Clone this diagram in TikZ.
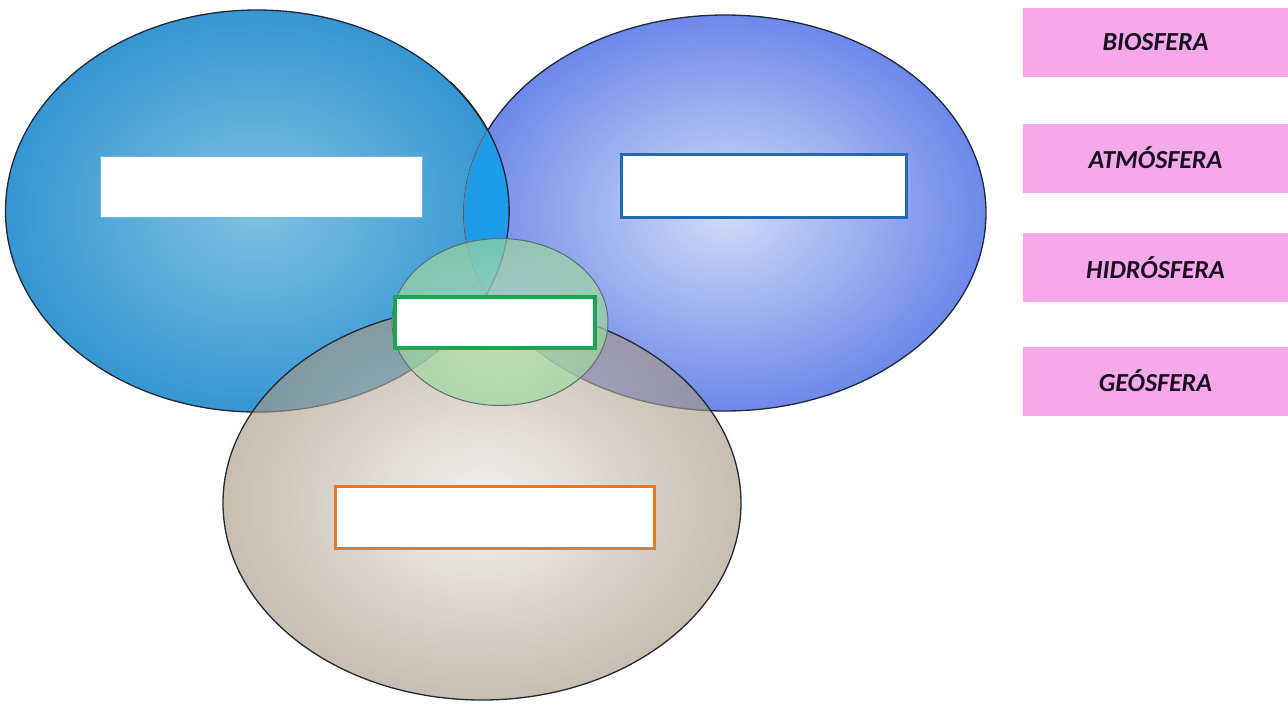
\documentclass[tikz,border=0pt]{standalone}
\usepackage{fontspec}
\setmainfont{Carlito}
\usetikzlibrary{shapes.geometric}
\definecolor{bioO}{HTML}{3596D2}
\definecolor{bioI}{HTML}{80C2E3}
\definecolor{atmO}{HTML}{5474E6}
\definecolor{atmI}{HTML}{CAD5F7}
\definecolor{mixBA}{HTML}{1E9CEA}
\definecolor{geoO}{HTML}{A8967F}
\definecolor{geoI}{HTML}{ECEAE8}
\definecolor{hidO}{HTML}{9CD89C}
\definecolor{hidI}{HTML}{C2EABE}
\definecolor{pinkbox}{HTML}{F6A9EA}
\definecolor{txtdark}{HTML}{1A1020}
\definecolor{blueline}{HTML}{1F6AB4}
\definecolor{greenline}{HTML}{1AA550}
\definecolor{orangeline}{HTML}{E5782A}
\definecolor{edgeline}{HTML}{1E2A3A}
\begin{document}
\begin{tikzpicture}[x=1pt,y=-1pt,
  sphere/.style={ellipse, inner sep=0pt, shade, draw=edgeline, line width=1.3pt},
  blank/.style={rectangle, inner sep=0pt, fill=white},
  label/.style={rectangle, inner sep=0pt, fill=pinkbox, minimum width=265pt, minimum height=69pt,
    text=txtdark, font=\bfseries\itshape\fontsize{26}{30}\selectfont}]
\useasboundingbox (0,0) rectangle (1288,705);
\fill[white] (0,0) rectangle (1288,705);
% spheres
\node[sphere, inner color=bioI, outer color=bioO, minimum width=503pt, minimum height=402pt] (bio) at (257,211) {};
\node[sphere, inner color=atmI, outer color=atmO, fill opacity=0.85, minimum width=522pt, minimum height=396pt] (atm) at (725,213) {};
\begin{scope}
  \clip (257,211) ellipse [x radius=251.5pt, y radius=201pt];
  \fill[mixBA] (725,213) ellipse [x radius=261pt, y radius=198pt];
  \draw[edgeline!60, line width=0.8pt] (725,213) ellipse [x radius=261pt, y radius=198pt];
\end{scope}
\draw[edgeline, line width=1.3pt] (bio.east) arc[start angle=0, end angle=40, x radius=251.5pt, y radius=-201pt];
\draw[edgeline, line width=1.3pt] (bio.east) arc[start angle=0, end angle=-40, x radius=251.5pt, y radius=-201pt];
\node[sphere, inner color=geoI, outer color=geoO, fill opacity=0.62, minimum width=518pt, minimum height=394pt] (geo) at (482,503) {};
\node[sphere, inner color=hidI, outer color=hidO, fill opacity=0.68, draw=edgeline!70, line width=1pt, minimum width=216pt, minimum height=167pt] (hid) at (500,322) {};
% blanks
\node[blank, draw=bioO!70, line width=0.6pt, minimum width=322pt, minimum height=61pt] (b1) at (261,186.5) {};
\node[blank, draw=blueline, line width=3pt, minimum width=285pt, minimum height=63pt] (b2) at (763.5,185.5) {};
\node[blank, draw=greenline, line width=4pt, minimum width=200pt, minimum height=51pt] (b3) at (495,322.5) {};
\node[blank, draw=orangeline, line width=3.5pt, minimum width=319pt, minimum height=62pt] (b4) at (495,517.5) {};
% labels
\node[label] (l1) at (1155.5,42) {BIOSFERA};
\node[label] (l2) at (1155.5,158) {ATMÓSFERA};
\node[label] (l3) at (1155.5,267.5) {HIDRÓSFERA};
\node[label] (l4) at (1155.5,381) {GEÓSFERA};
\end{tikzpicture}
\end{document}
